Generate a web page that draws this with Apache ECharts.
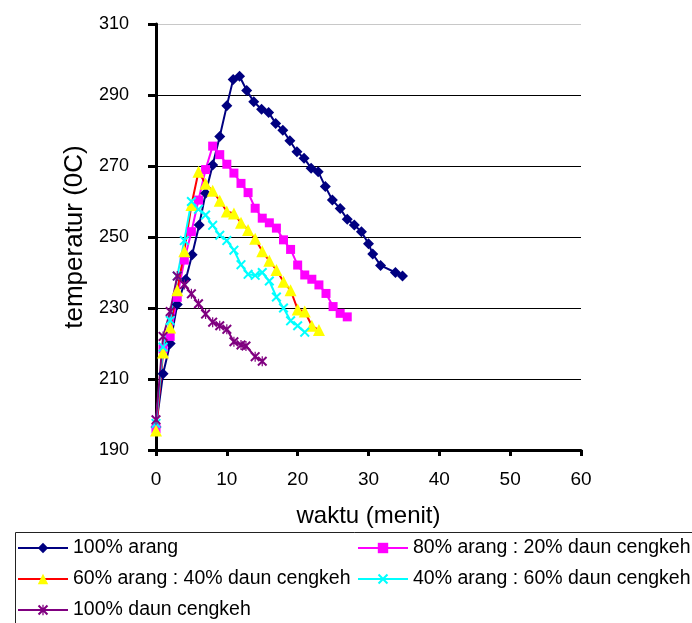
<!DOCTYPE html>
<html>
<head>
<meta charset="utf-8">
<title>temperatur vs waktu</title>
<script src="https://cdn.jsdelivr.net/npm/echarts@6/dist/echarts.min.js"></script>
<style>
  html, body { margin: 0; padding: 0; background: #fff; }
  #chart { width: 692px; height: 623px; }
</style>
</head>
<body>
<div id="chart"></div>
<script>
// Burn temperature (°C) against time (minutes) for five fuel mixtures
const seriesNames = [
  '100% arang',
  '80% arang : 20% daun cengkeh',
  '60% arang : 40% daun cengkeh',
  '40% arang : 60% daun cengkeh',
  '100% daun cengkeh'
];

const timeArang = [0, 1, 2, 3, 4.2, 5.1, 6.1, 7, 8, 9, 10, 10.9, 11.8, 12.8, 13.8, 14.9, 15.9, 16.9, 17.9, 18.9, 19.9, 20.9, 21.9, 22.9, 23.9, 24.9, 26, 27, 28, 29, 30, 30.6, 31.7, 33.8, 34.8];
const tempArang = [196.5, 211.5, 220, 231, 238, 245, 253.4, 262.3, 270.3, 278.3, 287, 294.4, 295.3, 291.3, 288.1, 286, 285.1, 282, 280.1, 277.1, 274, 272.2, 269.4, 268.4, 264.2, 260.4, 258, 255, 253.4, 251.5, 248.1, 245.2, 242, 240, 239];

const time80 = [0, 1, 2, 3, 4, 5, 6, 7, 8, 9, 10, 11, 12, 13, 14, 15, 16, 17, 18, 19, 20, 21, 22, 23, 24, 25, 26, 27];
const temp80 = [196, 218.5, 222, 233, 243.5, 251.5, 260.4, 269, 275.6, 273.2, 270.5, 268, 265.1, 262.5, 258.1, 255.3, 254, 252.5, 249.2, 246.5, 242.1, 239.3, 238.1, 236.5, 234.1, 230.4, 228.5, 227.5];

const time60 = [0, 1, 2, 3, 4, 5, 6, 7, 8, 9, 10, 11, 12, 13, 14, 15, 16, 17, 18, 19, 20, 21, 22, 23];
const temp60 = [195.5, 217.5, 224.5, 235, 246, 259, 268.4, 265, 263, 260.2, 257.2, 256.6, 254, 252, 249.5, 246, 243.3, 240.7, 237.4, 235, 229.6, 229, 225, 223.8];

const time40 = [0, 1, 2, 3, 4, 5, 6, 7, 8, 9, 10, 11, 12, 13, 14, 15, 16, 17, 18, 19, 20, 21];
const temp40 = [197.5, 219, 226.5, 239, 249, 260, 257.8, 256.2, 253.3, 250.5, 249, 246.3, 242.2, 239.5, 239.2, 240, 237.6, 233.1, 230, 226.4, 225, 223.2];

const timeCengkeh = [0, 1, 2, 3, 4, 5, 6, 7, 8, 9, 10, 11, 12, 12.7, 14, 15];
const tempCengkeh = [198.5, 222, 229, 239, 236.6, 234, 231.2, 228.3, 226, 225, 224, 220.5, 219.6, 219.3, 216.3, 215];

const xTicks = [0, 10, 20, 30, 40, 50, 60];
const yTicks = [190, 210, 230, 250, 270, 290, 310];

// marker shapes drawn as filled outlines
const crossPath = 'path://M0,1.4L1.4,0L5,3.6L8.6,0L10,1.4L6.4,5L10,8.6L8.6,10L5,6.4L1.4,10L0,8.6L3.6,5Z';
const starPath = crossPath + 'M4.4,0L5.6,0L5.6,10L4.4,10Z';

function pairs(xs, ys) {
  return xs.map((x, i) => [x, ys[i]]);
}

const fontFamily = 'Liberation Sans, Arial, sans-serif';

const chart = echarts.init(document.getElementById('chart'), null, { renderer: 'canvas' });

function lineSeries(name, xs, ys, lineColor, markColor, symbol, size) {
  return {
    name: name,
    type: 'line',
    data: pairs(xs, ys),
    symbol: symbol,
    symbolSize: size,
    showAllSymbol: true,
    animation: false,
    lineStyle: { color: lineColor, width: 2 },
    itemStyle: { color: markColor, borderWidth: 0 },
    emphasis: { disabled: true }
  };
}

const legendText = { fontFamily: fontFamily, fontSize: 19.5, color: '#000' };

const option = {
  backgroundColor: '#fff',
  animation: false,
  textStyle: { fontFamily: fontFamily },
  grid: { left: 156, right: 111, top: 24, bottom: 173, containLabel: false },
  xAxis: {
    type: 'value',
    min: xTicks[0],
    max: xTicks[xTicks.length - 1],
    interval: 10,
    name: 'waktu (menit)',
    nameLocation: 'middle',
    nameGap: 54,
    nameTextStyle: { fontSize: 24, color: '#000', fontFamily: fontFamily },
    axisLine: { onZero: false, lineStyle: { color: '#000', width: 3 } },
    axisTick: { show: true, length: 6, lineStyle: { color: '#000', width: 3 } },
    axisLabel: { fontSize: 19, color: '#000', margin: 20, fontFamily: fontFamily },
    splitLine: { show: false }
  },
  yAxis: {
    type: 'value',
    min: yTicks[0],
    max: yTicks[yTicks.length - 1],
    interval: 20,
    name: 'temperatur (0C)',
    nameLocation: 'middle',
    nameGap: 58,
    nameRotate: 90,
    nameTextStyle: { fontSize: 26, color: '#000', fontFamily: fontFamily },
    axisLine: { show: true, onZero: false, lineStyle: { color: '#000', width: 3 } },
    axisTick: { show: true, length: 8, lineStyle: { color: '#000', width: 3 } },
    axisLabel: { fontSize: 18, color: '#000', margin: 27, fontFamily: fontFamily },
    splitLine: {
      show: true,
      lineStyle: { color: ['#000', '#000', '#000', '#000', '#000', '#000', '#c8c8c8'], width: 1 }
    }
  },
  legend: [
    {
      data: [seriesNames[0], seriesNames[2], seriesNames[4]],
      orient: 'vertical',
      left: 17,
      top: 538,
      padding: 0,
      itemWidth: 50,
      itemHeight: 13,
      itemGap: 11,
      textStyle: legendText,
      selectedMode: false
    },
    {
      data: [seriesNames[1], seriesNames[3]],
      orient: 'vertical',
      left: 357,
      top: 538,
      padding: 0,
      itemWidth: 50,
      itemHeight: 13,
      itemGap: 11,
      textStyle: legendText,
      selectedMode: false
    }
  ],
  graphic: [
    {
      type: 'rect',
      silent: true,
      shape: { x: 15.5, y: 532.5, width: 720, height: 120 },
      style: { fill: 'none', stroke: '#222', lineWidth: 1 }
    }
  ],
  series: [
    lineSeries(seriesNames[0], timeArang, tempArang, '#000080', '#000080', 'diamond', 11),
    lineSeries(seriesNames[1], time80, temp80, '#ff00ff', '#ff00ff', 'rect', 9),
    lineSeries(seriesNames[2], time60, temp60, '#ff0000', '#ffff00', 'triangle', 12),
    lineSeries(seriesNames[3], time40, temp40, '#00ffff', '#00ffff', crossPath, 10),
    lineSeries(seriesNames[4], timeCengkeh, tempCengkeh, '#800080', '#800080', starPath, 10)
  ]
};

chart.setOption(option);
</script>
</body>
</html>
